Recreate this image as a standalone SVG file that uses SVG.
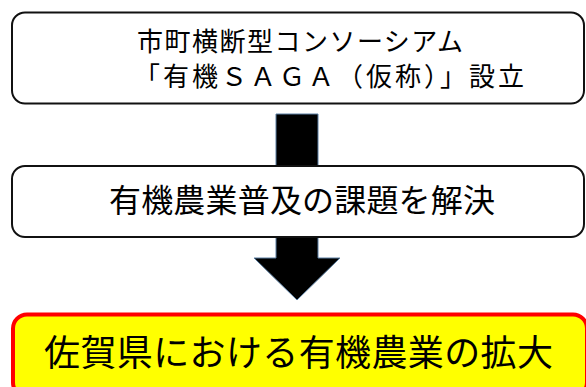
<svg xmlns="http://www.w3.org/2000/svg" width="586" height="387" viewBox="0 0 586 387">
<style>
.box{fill:#ffffff;stroke:#111111;stroke-width:2}
.goal{fill:#ffff00;stroke:#ff0000;stroke-width:4}
.arrow{fill:#000000;stroke:#5b7fa3;stroke-width:1}
text{font-family:"Noto Sans CJK JP","Noto Sans CJK SC",sans-serif;fill:#000000}
</style>
<rect width="586" height="387" fill="#ffffff"/>
<g id="connectors">
<polygon class="arrow" points="276,114 318,114 318,258 340,258 297,300 254,258 276,258"/>
</g>
<g id="node-consortium">
<rect class="box" x="12" y="12.5" width="572" height="91" rx="13"/>
<text x="137" y="51" font-size="26" textLength="326" lengthAdjust="spacing">市町横断型コンソーシアム</text>
<text x="134" y="86" font-size="26" textLength="390" lengthAdjust="spacing">「有機ＳＡＧＡ（仮称）」設立</text>
</g>
<g id="node-solve">
<rect class="box" x="12" y="166" width="572" height="71" rx="13"/>
<text x="109" y="212" font-size="32" textLength="386" lengthAdjust="spacing">有機農業普及の課題を解決</text>
</g>
<g id="node-expand">
<rect class="goal" x="13" y="314.5" width="574" height="82" rx="14"/>
<text x="44" y="366" font-size="36" textLength="509" lengthAdjust="spacing">佐賀県における有機農業の拡大</text>
</g>
</svg>
